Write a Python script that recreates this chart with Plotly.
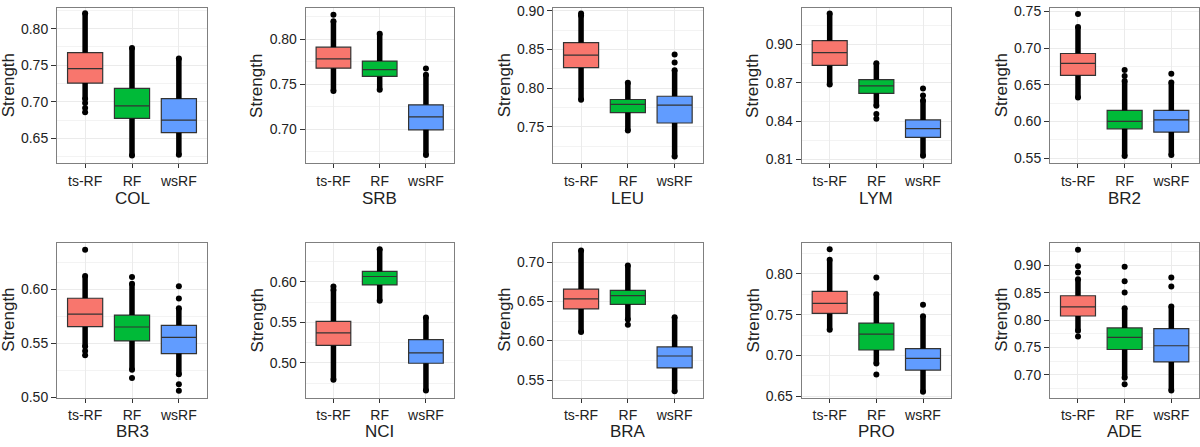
import plotly.graph_objects as go

categories = ["ts-RF", "RF", "wsRF"]
colors = ["#F8766D", "#00BA38", "#619CFF"]
datasets = ["COL", "SRB", "LEU", "LYM", "BR2", "BR3", "NCI", "BRA", "PRO", "ADE"]

q1 = {
    "COL": [0.7255, 0.6771, 0.6576],
    "SRB": [0.7679, 0.7588, 0.6993],
    "LEU": [0.8264, 0.7684, 0.7549],
    "LYM": [0.8835, 0.8617, 0.8272],
    "BR2": [0.6627, 0.5899, 0.5855],
    "BR3": [0.5654, 0.5522, 0.5406],
    "NCI": [0.5215, 0.5960, 0.4996],
    "BRA": [0.6406, 0.6464, 0.5654],
    "PRO": [0.7516, 0.7067, 0.6821],
    "ADE": [0.8077, 0.7464, 0.7237],
}
median = {
    "COL": [0.7454, 0.6944, 0.6749],
    "SRB": [0.7783, 0.7664, 0.7137],
    "LEU": [0.8428, 0.7789, 0.7781],
    "LYM": [0.8934, 0.8675, 0.8341],
    "BR2": [0.6792, 0.6000, 0.6020],
    "BR3": [0.5770, 0.5651, 0.5555],
    "NCI": [0.5371, 0.6064, 0.5124],
    "BRA": [0.6534, 0.6575, 0.5806],
    "PRO": [0.7639, 0.7262, 0.6964],
    "ADE": [0.8243, 0.7686, 0.7533],
}
q3 = {
    "COL": [0.7672, 0.7184, 0.7042],
    "SRB": [0.7913, 0.7758, 0.7271],
    "LEU": [0.8588, 0.7853, 0.7895],
    "LYM": [0.9028, 0.8723, 0.8409],
    "BR2": [0.6926, 0.6150, 0.6150],
    "BR3": [0.5916, 0.5761, 0.5666],
    "NCI": [0.5512, 0.6127, 0.5287],
    "BRA": [0.6658, 0.6641, 0.5922],
    "PRO": [0.7786, 0.7397, 0.7083],
    "ADE": [0.8447, 0.7858, 0.7846],
}
# extent of the densely packed outlier points (they overlap into a solid band)
dense_low = {
    "COL": [0.7037, 0.6265, 0.6275],
    "SRB": [0.7425, 0.7440, 0.6712],
    "LEU": [0.7850, 0.7452, 0.7115],
    "LYM": [0.8685, 0.8520, 0.8128],
    "BR2": [0.6327, 0.5530, 0.5542],
    "BR3": [0.5470, 0.5257, 0.5215],
    "NCI": [0.4792, 0.5764, 0.4662],
    "BRA": [0.6112, 0.6270, 0.5357],
    "PRO": [0.7316, 0.6900, 0.6555],
    "ADE": [0.7805, 0.6950, 0.6713],
}
dense_high = {
    "COL": [0.8210, 0.7735, 0.7590],
    "SRB": [0.8202, 0.8062, 0.7606],
    "LEU": [0.8940, 0.8070, 0.8230],
    "LYM": [0.9240, 0.8852, 0.8560],
    "BR2": [0.7286, 0.6550, 0.6530],
    "BR3": [0.6122, 0.6050, 0.5824],
    "NCI": [0.5900, 0.6400, 0.5560],
    "BRA": [0.7150, 0.6960, 0.6300],
    "PRO": [0.8175, 0.7750, 0.7480],
    "ADE": [0.8751, 0.8220, 0.8249],
}
# isolated outlier points beyond the dense band
outliers = {
    "COL": [[0.6984, 0.6913, 0.6855], [], []],
    "SRB": [[0.8274], [], [0.7675]],
    "LEU": [[0.8966], [], [0.8436, 0.8330]],
    "LYM": [[], [0.8455, 0.8418], [0.8655, 0.8600]],
    "BR2": [[0.7465], [0.6700, 0.6620], [0.6649]],
    "BR3": [[0.6364, 0.5430, 0.5390], [0.6113, 0.5180], [0.6027, 0.5913, 0.5122, 0.5063]],
    "NCI": [[0.5940], [], []],
    "BRA": [[], [0.6204], []],
    "PRO": [[0.8302], [0.7956, 0.6766], [0.7623]],
    "ADE": [[0.9290, 0.8988, 0.8870, 0.7704], [0.8976, 0.8710, 0.8506, 0.6828], [0.8781, 0.8615]],
}

y_dtick = {"COL": 0.05, "SRB": 0.05, "LEU": 0.05, "LYM": 0.03, "BR2": 0.05,
           "BR3": 0.05, "NCI": 0.05, "BRA": 0.05, "PRO": 0.05, "ADE": 0.05}
y_range = {
    "COL": [0.6158, 0.8280], "SRB": [0.6621, 0.8347], "LEU": [0.7028, 0.9034],
    "LYM": [0.8070, 0.9282], "BR2": [0.5430, 0.7543], "BR3": [0.5000, 0.6427],
    "NCI": [0.4574, 0.6478], "BRA": [0.5277, 0.7247], "PRO": [0.6484, 0.8381],
    "ADE": [0.6586, 0.9414],
}

W, H = 1200, 447
col_left = [57, 305.7, 553, 801.7, 1050]
col_right = [207, 453.7, 702.7, 951, 1199.3]
row_top = [3.3, 245]
row_bot = [163, 404.3]
xtitle_y = [199.5, 439]

fig = go.Figure()
layout = dict(
    width=W, height=H, margin=dict(l=0, r=0, t=0, b=0),
    paper_bgcolor="white", plot_bgcolor="white", showlegend=False,
    font=dict(family="Liberation Sans, Arial, sans-serif", color="#222222"),
    annotations=[],
)

for i, ds in enumerate(datasets):
    r, c = divmod(i, 5)
    n = i + 1
    xa = "x" if n == 1 else f"x{n}"
    ya = "y" if n == 1 else f"y{n}"
    for k, cat in enumerate(categories):
        fig.add_trace(go.Box(
            x=[cat], q1=[q1[ds][k]], median=[median[ds][k]], q3=[q3[ds][k]],
            lowerfence=[dense_low[ds][k]], upperfence=[dense_high[ds][k]],
            fillcolor=colors[k], line=dict(color="#333333", width=1.2),
            whiskerwidth=0, width=0.75, boxpoints=False,
            xaxis=xa, yaxis=ya, hoverinfo="skip",
        ))
    bx, by = [], []
    for k, cat in enumerate(categories):
        bx += [cat, cat, None, cat, cat, None]
        by += [q3[ds][k], dense_high[ds][k], None, q1[ds][k], dense_low[ds][k], None]
    fig.add_trace(go.Scatter(x=bx, y=by, mode="lines",
                             line=dict(color="black", width=5.5),
                             xaxis=xa, yaxis=ya, hoverinfo="skip"))
    px_, py_ = [], []
    for k, cat in enumerate(categories):
        pts = [dense_low[ds][k], dense_high[ds][k]] + outliers[ds][k]
        px_ += [cat] * len(pts)
        py_ += pts
    fig.add_trace(go.Scatter(x=px_, y=py_, mode="markers",
                             marker=dict(color="black", size=6),
                             xaxis=xa, yaxis=ya, hoverinfo="skip"))

    xd = [col_left[c] / W, col_right[c] / W]
    yd = [1 - row_bot[r] / H, 1 - row_top[r] / H]
    key_x = "xaxis" if n == 1 else f"xaxis{n}"
    key_y = "yaxis" if n == 1 else f"yaxis{n}"
    dt = y_dtick[ds]
    layout[key_x] = dict(
        domain=xd, anchor=ya, type="category", categoryorder="array",
        categoryarray=categories, range=[-0.6, 2.6],
        showline=True, mirror=True, linecolor="#7f7f7f", linewidth=1,
        showgrid=True, gridcolor="#EBEBEB", gridwidth=1,
        ticks="outside", ticklen=4, tickcolor="#333333",
        ticklabelstandoff=1, ticklabeloverflow="allow",
        tickfont=dict(size=14, color="#222222"), zeroline=False,
    )
    layout[key_y] = dict(
        domain=yd, anchor=xa, range=y_range[ds],
        tickmode="linear", tick0=0, dtick=dt, tickformat=".2f",
        showline=True, mirror=True, linecolor="#7f7f7f", linewidth=1,
        showgrid=True, gridcolor="#EBEBEB", gridwidth=1,
        minor=dict(tick0=0, dtick=dt / 2, showgrid=True, gridcolor="#F3F3F3", gridwidth=1),
        ticks="outside", ticklen=5, tickcolor="#333333",
        ticklabeloverflow="allow",
        tickfont=dict(size=14, color="#222222"), zeroline=False,
    )
    layout["annotations"].append(dict(
        text="Strength", textangle=-90, xref="paper", yref="paper",
        x=(col_left[c] - 48.5) / W, y=1 - (row_top[r] + row_bot[r]) / 2 / H,
        xanchor="center", yanchor="middle", showarrow=False,
        font=dict(size=17, color="#222222"),
    ))
    layout["annotations"].append(dict(
        text=ds, xref="paper", yref="paper",
        x=(col_left[c] + col_right[c]) / 2 / W, y=1 - xtitle_y[r] / H,
        xanchor="center", yanchor="middle", showarrow=False,
        font=dict(size=17, color="#222222"),
    ))

fig.update_layout(**layout)
fig.write_html(
    "out.html",
    config={"displayModeBar": False},
    post_script="document.body.style.margin='0';document.body.style.overflow='hidden';",
)
